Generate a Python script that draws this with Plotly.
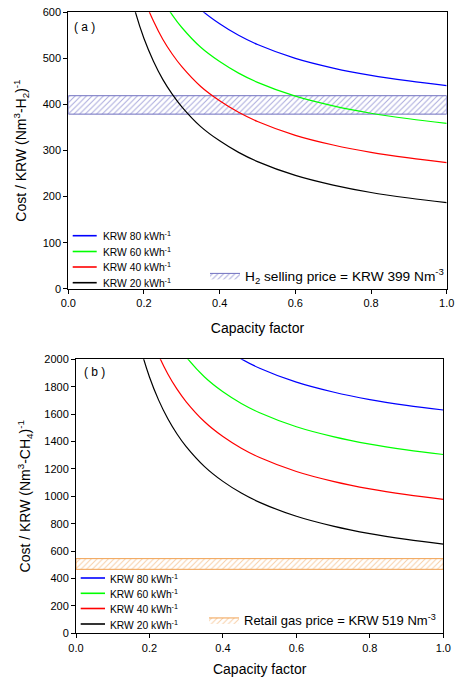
import plotly.graph_objects as go

# ---------------- data ----------------
capacity_factor = [0.15, 0.175, 0.2, 0.225, 0.25, 0.275, 0.3, 0.35, 0.4, 0.45, 0.5, 0.6, 0.7, 0.8, 0.9, 1.0]

# (a) hydrogen cost, KRW per Nm3-H2
h2_krw20 = [691, 607, 543, 494, 454, 422, 395, 352, 321, 296, 276, 246, 225, 209, 197, 187]
h2_krw40 = [778, 694, 630, 581, 541, 509, 482, 439, 408, 383, 363, 333, 312, 296, 284, 274]
h2_krw60 = [863, 779, 715, 666, 626, 594, 567, 524, 493, 468, 448, 418, 397, 381, 369, 359]
h2_krw80 = [945, 861, 797, 748, 708, 676, 649, 606, 575, 550, 530, 500, 479, 463, 451, 441]

# (b) methane cost, KRW per Nm3-CH4
ch4_krw20 = [2379, 2089, 1871, 1702, 1566, 1455, 1363, 1217, 1109, 1024, 956, 854, 782, 727, 685, 651]
ch4_krw40 = [2706, 2416, 2198, 2029, 1893, 1782, 1690, 1544, 1436, 1351, 1283, 1181, 1109, 1054, 1012, 978]
ch4_krw60 = [3033, 2743, 2525, 2356, 2220, 2109, 2017, 1871, 1763, 1678, 1610, 1508, 1436, 1381, 1339, 1305]
ch4_krw80 = [3358, 3068, 2850, 2681, 2545, 2434, 2342, 2196, 2088, 2003, 1935, 1833, 1761, 1706, 1664, 1630]

series_names = ["KRW 80 kWh<sup>-1</sup>", "KRW 60 kWh<sup>-1</sup>",
                "KRW 40 kWh<sup>-1</sup>", "KRW 20 kWh<sup>-1</sup>"]
series_colors = ["#0000FF", "#00FF00", "#FF0000", "#000000"]

band_x = [0.0, 1.0]
h2_band = [379, 419]      # H2 selling price band (KRW 399 Nm-3)
ch4_band = [467, 545]     # retail gas price band (KRW 519 Nm-3)

x_ticks = [0.0, 0.2, 0.4, 0.6, 0.8, 1.0]
x_ticklabels = ["0.0", "0.2", "0.4", "0.6", "0.8", "1.0"]
ya_ticks = [0, 100, 200, 300, 400, 500, 600]
yb_ticks = [0, 200, 400, 600, 800, 1000, 1200, 1400, 1600, 1800, 2000]

# ---------------- figure ----------------
W, H = 455, 680
FONT = "Liberation Sans, Arial, sans-serif"
fig = go.Figure()

top_sets = [h2_krw80, h2_krw60, h2_krw40, h2_krw20]
bot_sets = [ch4_krw80, ch4_krw60, ch4_krw40, ch4_krw20]


def px_x(p):
    return p / W


def px_y(p):
    return 1 - p / H


# bands first (behind lines)
fig.add_trace(go.Scatter(
    x=[band_x[0], band_x[1], band_x[1], band_x[0], band_x[0]],
    y=[h2_band[0], h2_band[0], h2_band[1], h2_band[1], h2_band[0]],
    mode="lines", fill="toself",
    fillcolor="rgba(255,255,255,0)",
    fillpattern=dict(shape="/", size=4, solidity=0.25, fgcolor="#5050B8", bgcolor="rgba(255,255,255,0)"),
    line=dict(color="#7070C0", width=1),
    name="H<sub>2</sub> selling price = KRW 399 Nm<sup>-3</sup>",
    legend="legend2", xaxis="x", yaxis="y", hoverinfo="skip"))

fig.add_trace(go.Scatter(
    x=[band_x[0], band_x[1], band_x[1], band_x[0], band_x[0]],
    y=[ch4_band[0], ch4_band[0], ch4_band[1], ch4_band[1], ch4_band[0]],
    mode="lines", fill="toself",
    fillcolor="rgba(255,255,255,0)",
    fillpattern=dict(shape="/", size=4, solidity=0.25, fgcolor="#F0A050", bgcolor="rgba(255,255,255,0)"),
    line=dict(color="#F0A050", width=1),
    name="Retail gas price = KRW 519 Nm<sup>-3</sup>",
    legend="legend4", xaxis="x2", yaxis="y2", hoverinfo="skip"))

for name, col, ys in zip(series_names, series_colors, top_sets):
    fig.add_trace(go.Scatter(x=capacity_factor, y=ys, mode="lines", name=name,
                             line=dict(color=col, width=1.2, shape="spline"),
                             showlegend=False, xaxis="x", yaxis="y"))
for name, col, ys in zip(series_names, series_colors, bot_sets):
    fig.add_trace(go.Scatter(x=capacity_factor, y=ys, mode="lines", name=name,
                             line=dict(color=col, width=1.2, shape="spline"),
                             showlegend=False, xaxis="x2", yaxis="y2"))

# compact legends for the four lines (drawn in paper coordinates)
shapes = []
annotations = []
legend_specs = [
    # (line x0, line x1, text x, row y positions)
    (72.7, 96.7, 100.5, [235.7, 251.5, 267.0, 282.7]),
    (80.7, 105.0, 108.3, [578.0, 593.3, 608.5, 624.0]),
]
for (lx0, lx1, tx, rows) in legend_specs:
    for name, col, ry in zip(series_names, series_colors, rows):
        shapes.append(dict(type="line", xref="paper", yref="paper",
                           x0=px_x(lx0), x1=px_x(lx1), y0=px_y(ry), y1=px_y(ry),
                           line=dict(color=col, width=1.6)))
        annotations.append(dict(text=name, x=px_x(tx), y=px_y(ry), xref="paper", yref="paper",
                                xanchor="left", yanchor="middle", showarrow=False,
                                font=dict(size=10.3, family=FONT, color="black")))

annotations += [
    dict(text="( a )", x=px_x(72), y=px_y(27), xref="paper", yref="paper",
         xanchor="left", yanchor="middle", showarrow=False,
         font=dict(size=12, family=FONT)),
    dict(text="( b )", x=px_x(82), y=px_y(372), xref="paper", yref="paper",
         xanchor="left", yanchor="middle", showarrow=False,
         font=dict(size=12, family=FONT)),
]

axis_common = dict(showline=True, linecolor="black", linewidth=1, mirror=True,
                   ticks="outside", ticklen=4, tickwidth=1, tickcolor="black",
                   showgrid=False, zeroline=False, automargin=False,
                   tickfont=dict(family=FONT, size=11, color="black"))

fig.update_layout(
    width=W, height=H,
    margin=dict(l=0, r=0, t=0, b=0),
    paper_bgcolor="white", plot_bgcolor="white",
    font=dict(family=FONT, color="black"),
    xaxis=dict(domain=[px_x(68.3), px_x(446.7)], range=[0, 1], anchor="y",
               tickvals=x_ticks, ticktext=x_ticklabels,
               title=dict(text="Capacity factor", font=dict(size=14, family=FONT), standoff=15),
               **axis_common),
    yaxis=dict(domain=[px_y(288.8), px_y(12.3)], range=[0, 600], anchor="x",
               tickvals=ya_ticks,
               title=dict(text="Cost / KRW (Nm<sup>3</sup>-H<sub>2</sub>)<sup>-1</sup>",
                          font=dict(size=14, family=FONT), standoff=12),
               **axis_common),
    xaxis2=dict(domain=[px_x(76), px_x(443.3)], range=[0, 1], anchor="y2",
                tickvals=x_ticks, ticktext=x_ticklabels,
                title=dict(text="Capacity factor", font=dict(size=14, family=FONT), standoff=11),
                **axis_common),
    yaxis2=dict(domain=[px_y(633.3), px_y(359.3)], range=[0, 2000], anchor="x2",
                tickvals=yb_ticks,
                title=dict(text="Cost / KRW (Nm<sup>3</sup>-CH<sub>4</sub>)<sup>-1</sup>",
                           font=dict(size=14, family=FONT), standoff=10),
                **axis_common),
    legend2=dict(x=px_x(205), y=px_y(291), xanchor="left", yanchor="bottom",
                 bgcolor="rgba(0,0,0,0)", font=dict(size=13.7, family=FONT), itemwidth=30),
    legend4=dict(x=px_x(204), y=px_y(635), xanchor="left", yanchor="bottom",
                 bgcolor="rgba(0,0,0,0)", font=dict(size=13, family=FONT), itemwidth=30),
    showlegend=True,
    shapes=shapes,
    annotations=annotations,
)

fig.write_html("out.html", config={"displayModeBar": False},
               post_script="document.body.style.margin='0px';")
